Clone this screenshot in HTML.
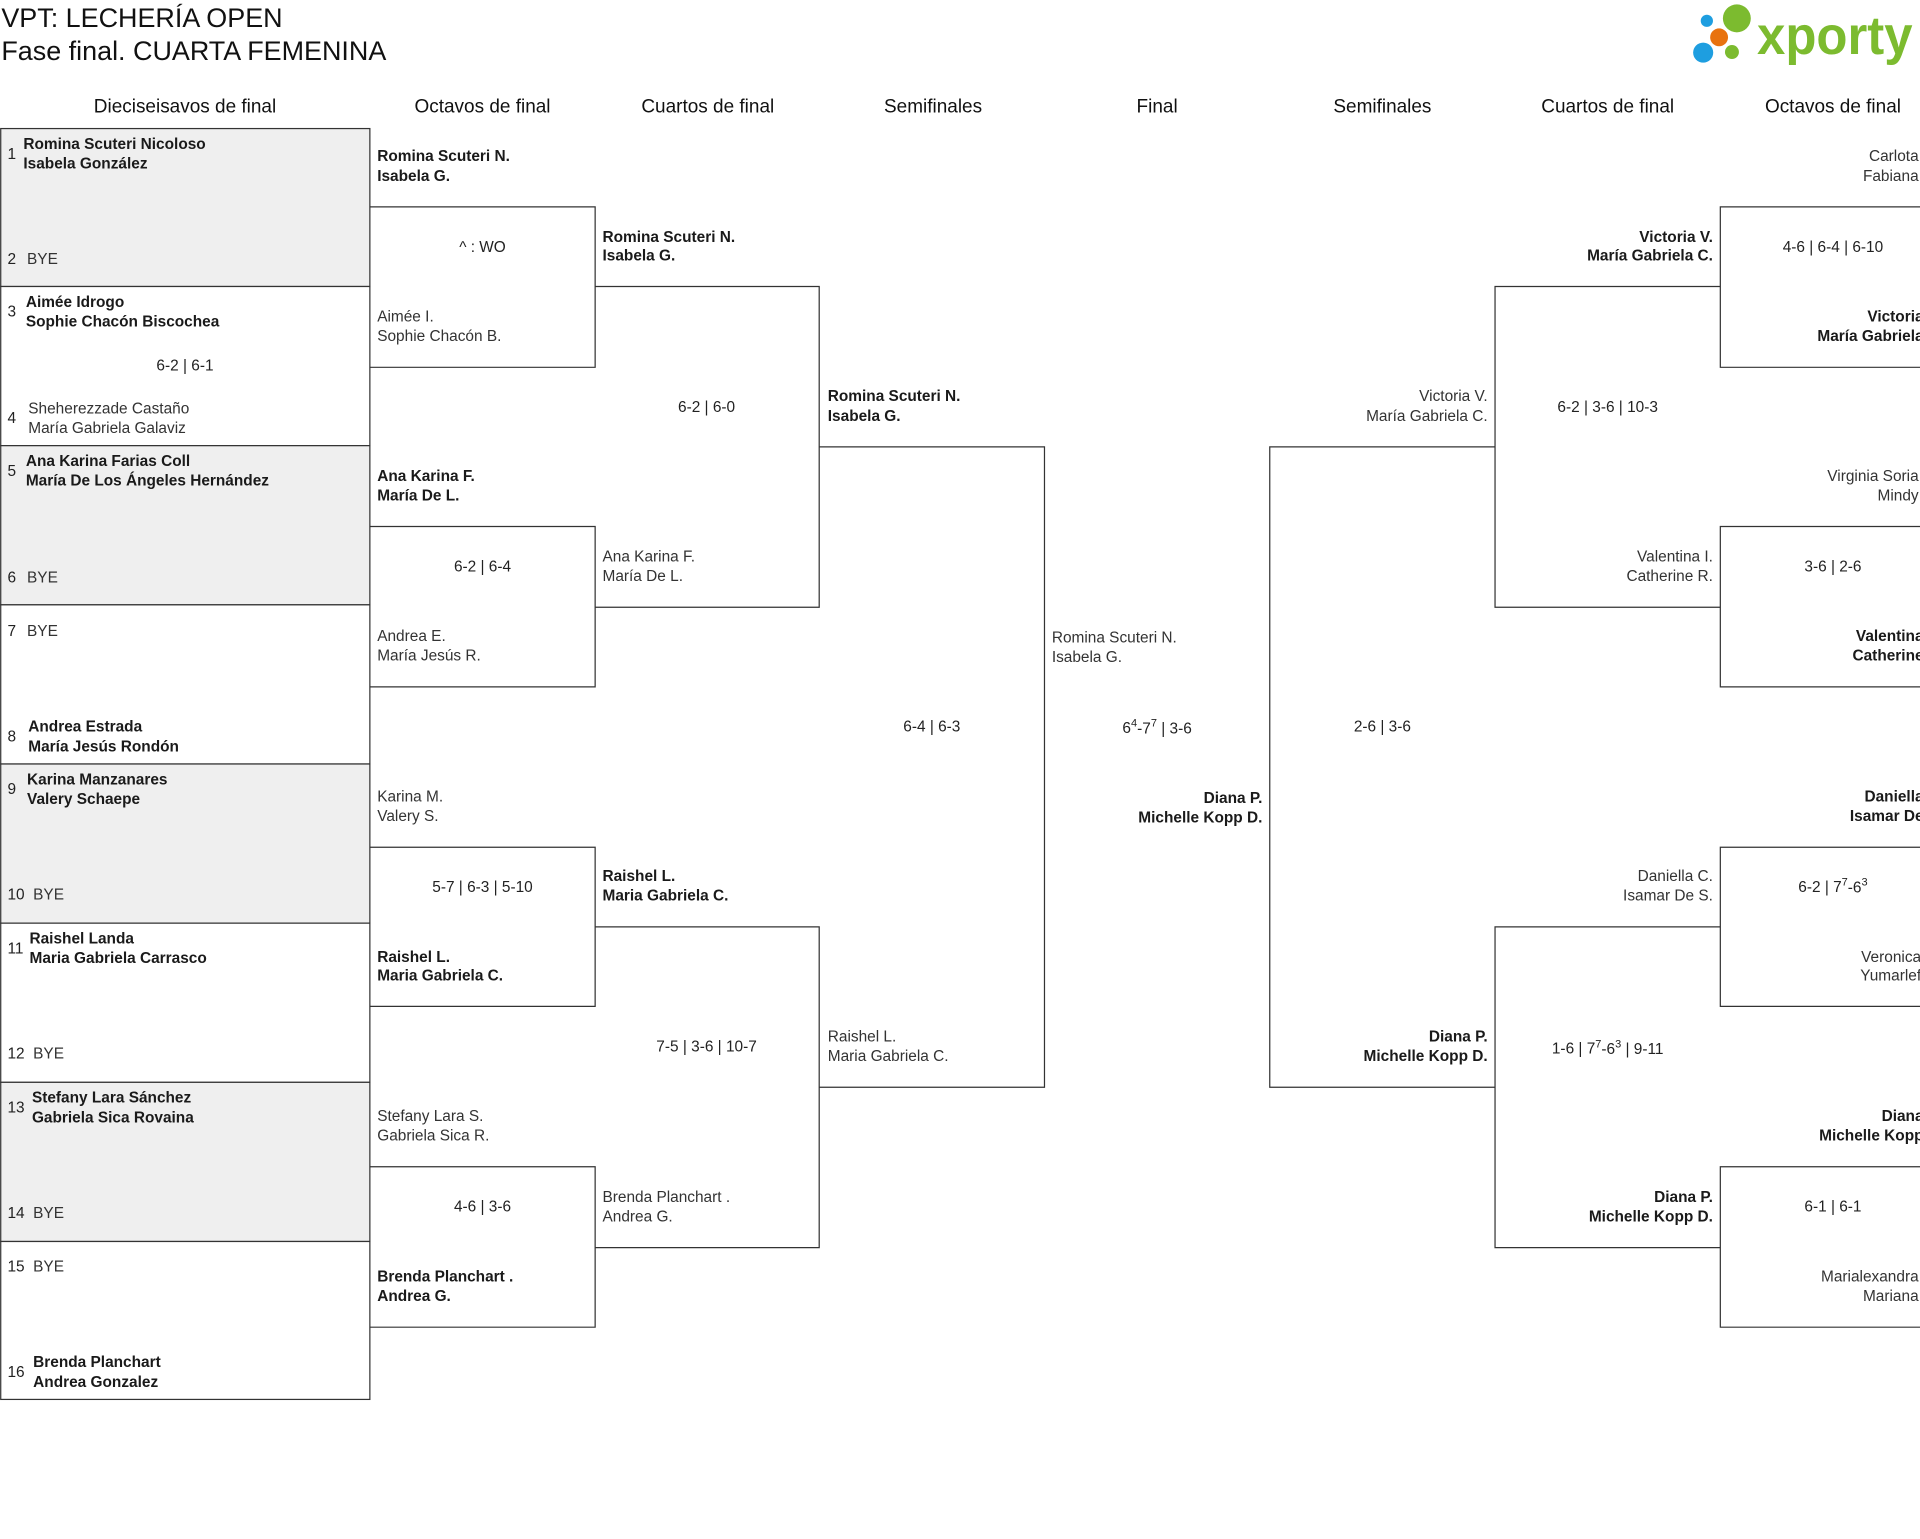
<!DOCTYPE html>
<html><head><meta charset="utf-8"><style>
html,body{margin:0;padding:0;background:#fff;}
svg{display:block;}
text{font-family:"Liberation Sans",sans-serif;}
.h{font-size:15.5px;fill:#111;text-anchor:middle;}
.w{font-size:12.6px;font-weight:bold;fill:#1a1a1a;}
.l{font-size:12.6px;fill:#333;}
.s{font-size:12.6px;fill:#222;text-anchor:middle;}
.n{font-size:12.6px;fill:#222;}
.r{text-anchor:end;}
rect,line,path{stroke:#333;stroke-width:1;}
</style></head><body>
<svg width="1920" height="1539" viewBox="0 0 1568 1257" xmlns="http://www.w3.org/2000/svg">
<text x="1" y="22" style="font-size:22px;fill:#111">VPT: LECHERÍA OPEN</text>
<text x="1" y="49" style="font-size:22px;fill:#111">Fase final. CUARTA FEMENINA</text>
<!-- logo -->
<circle cx="1394" cy="17" r="5" fill="#1e9ee0" stroke="none"/>
<circle cx="1418.5" cy="15" r="11.4" fill="#7cbb2f" stroke="none"/>
<circle cx="1404" cy="30.5" r="7.3" fill="#e8720f" stroke="none"/>
<circle cx="1391" cy="43" r="8.2" fill="#1e9ee0" stroke="none"/>
<circle cx="1414.5" cy="42.5" r="5.7" fill="#7cbb2f" stroke="none"/>
<text x="1435" y="44" textLength="127" lengthAdjust="spacingAndGlyphs" style="font-size:44px;font-weight:bold;fill:#7cbb2f">xporty</text>
<!-- headers -->
<g class="h">
<text x="151" y="92">Dieciseisavos de final</text>
<text x="394" y="92">Octavos de final</text>
<text x="578" y="92">Cuartos de final</text>
<text x="762" y="92">Semifinales</text>
<text x="945" y="92">Final</text>
<text x="1129" y="92">Semifinales</text>
<text x="1313" y="92">Cuartos de final</text>
<text x="1497" y="92">Octavos de final</text>
</g>
<!-- round 1 boxes -->
<g fill="none">
<rect x="0.5" y="105" width="301.5" height="129" fill="#efefef"/>
<rect x="0.5" y="234" width="301.5" height="130" fill="#fff"/>
<rect x="0.5" y="364" width="301.5" height="130" fill="#efefef"/>
<rect x="0.5" y="494" width="301.5" height="130" fill="#fff"/>
<rect x="0.5" y="624" width="301.5" height="130" fill="#efefef"/>
<rect x="0.5" y="754" width="301.5" height="130" fill="#fff"/>
<rect x="0.5" y="884" width="301.5" height="130" fill="#efefef"/>
<rect x="0.5" y="1014" width="301.5" height="129" fill="#fff"/>
<!-- left brackets: top, right, bottom -->
<path d="M302 169 H486 V300 H302 M302 430 H486 V561 H302 M302 692 H486 V822 H302 M302 953 H486 V1084 H302"/>
<path d="M486 234 H669 V496 H486 M486 757 H669 V1019 H486"/>
<path d="M669 365 H853 V888 H669"/>
<!-- right brackets: top, left, bottom -->
<path d="M1221 365 H1037 V888 H1221"/>
<path d="M1405 234 H1221 V496 H1405 M1405 757 H1221 V1019 H1405"/>
<path d="M1580 169 H1405 V300 H1580 M1580 430 H1405 V561 H1580 M1580 692 H1405 V822 H1580 M1580 953 H1405 V1084 H1580"/>
</g>
<g dominant-baseline="central">
<text class="n" x="6" y="126">1</text><text class="w" x="19" y="118">Romina Scuteri Nicoloso</text><text class="w" x="19" y="134">Isabela González</text>
<text class="n" x="6" y="212">2</text><text class="l" x="22" y="212">BYE</text>
<text class="n" x="6" y="255">3</text><text class="w" x="21" y="247">Aimée Idrogo</text><text class="w" x="21" y="263">Sophie Chacón Biscochea</text>
<text class="s" x="151" y="299">6-2 | 6-1</text>
<text class="n" x="6" y="342">4</text><text class="l" x="23" y="334">Sheherezzade Castaño</text><text class="l" x="23" y="350">María Gabriela Galaviz</text>
<text class="n" x="6" y="385">5</text><text class="w" x="21" y="377">Ana Karina Farias Coll</text><text class="w" x="21" y="393">María De Los Ángeles Hernández</text>
<text class="n" x="6" y="472">6</text><text class="l" x="22" y="472">BYE</text>
<text class="n" x="6" y="516">7</text><text class="l" x="22" y="516">BYE</text>
<text class="n" x="6" y="602">8</text><text class="w" x="23" y="594">Andrea Estrada</text><text class="w" x="23" y="610">María Jesús Rondón</text>
<text class="n" x="6" y="645">9</text><text class="w" x="22" y="637">Karina Manzanares</text><text class="w" x="22" y="653">Valery Schaepe</text>
<text class="n" x="6" y="731">10</text><text class="l" x="27" y="731">BYE</text>
<text class="n" x="6" y="775">11</text><text class="w" x="24" y="767">Raishel Landa</text><text class="w" x="24" y="783">Maria Gabriela Carrasco</text>
<text class="n" x="6" y="861">12</text><text class="l" x="27" y="861">BYE</text>
<text class="n" x="6" y="905">13</text><text class="w" x="26" y="897">Stefany Lara Sánchez</text><text class="w" x="26" y="913">Gabriela Sica Rovaina</text>
<text class="n" x="6" y="991">14</text><text class="l" x="27" y="991">BYE</text>
<text class="n" x="6" y="1035">15</text><text class="l" x="27" y="1035">BYE</text>
<text class="n" x="6" y="1121">16</text><text class="w" x="27" y="1113">Brenda Planchart</text><text class="w" x="27" y="1129">Andrea Gonzalez</text>

<text class="w" x="308" y="128">Romina Scuteri N.</text><text class="w" x="308" y="144">Isabela G.</text>
<text class="s" x="394" y="202">^ : WO</text>
<text class="l" x="308" y="259">Aimée I.</text><text class="l" x="308" y="275">Sophie Chacón B.</text>
<text class="w" x="308" y="389">Ana Karina F.</text><text class="w" x="308" y="405">María De L.</text>
<text class="s" x="394" y="463">6-2 | 6-4</text>
<text class="l" x="308" y="520">Andrea E.</text><text class="l" x="308" y="536">María Jesús R.</text>
<text class="l" x="308" y="651">Karina M.</text><text class="l" x="308" y="667">Valery S.</text>
<text class="s" x="394" y="725">5-7 | 6-3 | 5-10</text>
<text class="w" x="308" y="782">Raishel L.</text><text class="w" x="308" y="797">Maria Gabriela C.</text>
<text class="l" x="308" y="912">Stefany Lara S.</text><text class="l" x="308" y="928">Gabriela Sica R.</text>
<text class="s" x="394" y="986">4-6 | 3-6</text>
<text class="w" x="308" y="1043">Brenda Planchart .</text><text class="w" x="308" y="1059">Andrea G.</text>

<text class="w" x="492" y="194">Romina Scuteri N.</text><text class="w" x="492" y="209">Isabela G.</text>
<text class="s" x="577" y="333">6-2 | 6-0</text>
<text class="l" x="492" y="455">Ana Karina F.</text><text class="l" x="492" y="471">María De L.</text>
<text class="w" x="492" y="716">Raishel L.</text><text class="w" x="492" y="732">Maria Gabriela C.</text>
<text class="s" x="577" y="855">7-5 | 3-6 | 10-7</text>
<text class="l" x="492" y="978">Brenda Planchart .</text><text class="l" x="492" y="994">Andrea G.</text>

<text class="w" x="676" y="324">Romina Scuteri N.</text><text class="w" x="676" y="340">Isabela G.</text>
<text class="s" x="761" y="594">6-4 | 6-3</text>
<text class="l" x="676" y="847">Raishel L.</text><text class="l" x="676" y="863">Maria Gabriela C.</text>

<text class="l" x="859" y="521">Romina Scuteri N.</text><text class="l" x="859" y="537">Isabela G.</text>
<text class="s" x="945" y="595">6<tspan dy="-4" style="font-size:9px">4</tspan><tspan dy="4">-7</tspan><tspan dy="-4" style="font-size:9px">7</tspan><tspan dy="4"> | 3-6</tspan></text>
<text class="w r" x="1031" y="652">Diana P.</text><text class="w r" x="1031" y="668">Michelle Kopp D.</text>

<text class="l r" x="1215" y="324">Victoria V.</text><text class="l r" x="1215" y="340">María Gabriela C.</text>
<text class="s" x="1129" y="594">2-6 | 3-6</text>
<text class="w r" x="1215" y="847">Diana P.</text><text class="w r" x="1215" y="863">Michelle Kopp D.</text>

<text class="w r" x="1399" y="194">Victoria V.</text><text class="w r" x="1399" y="209">María Gabriela C.</text>
<text class="s" x="1313" y="333">6-2 | 3-6 | 10-3</text>
<text class="l r" x="1399" y="455">Valentina I.</text><text class="l r" x="1399" y="471">Catherine R.</text>
<text class="l r" x="1399" y="716">Daniella C.</text><text class="l r" x="1399" y="732">Isamar De S.</text>
<text class="s" x="1313" y="857">1-6 | 7<tspan dy="-4" style="font-size:9px">7</tspan><tspan dy="4">-6</tspan><tspan dy="-4" style="font-size:9px">3</tspan><tspan dy="4"> | 9-11</tspan></text>
<text class="w r" x="1399" y="978">Diana P.</text><text class="w r" x="1399" y="994">Michelle Kopp D.</text>

<text class="l r" x="1567" y="128">Carlota</text><text class="l r" x="1567" y="144">Fabiana</text>
<text class="s" x="1497" y="202">4-6 | 6-4 | 6-10</text>
<text class="w r" x="1571" y="259">Victoria</text><text class="w r" x="1571" y="275">María Gabriela</text>
<text class="l r" x="1567" y="389">Virginia Soria</text><text class="l r" x="1567" y="405">Mindy</text>
<text class="s" x="1497" y="463">3-6 | 2-6</text>
<text class="w r" x="1571" y="520">Valentina</text><text class="w r" x="1571" y="536">Catherine</text>
<text class="w r" x="1571" y="651">Daniella</text><text class="w r" x="1571" y="667">Isamar De</text>
<text class="s" x="1497" y="725">6-2 | 7<tspan dy="-4" style="font-size:9px">7</tspan><tspan dy="4">-6</tspan><tspan dy="-4" style="font-size:9px">3</tspan></text>
<text class="l r" x="1569" y="782">Veronica</text><text class="l r" x="1569" y="797">Yumarlef</text>
<text class="w r" x="1571" y="912">Diana</text><text class="w r" x="1571" y="928">Michelle Kopp</text>
<text class="s" x="1497" y="986">6-1 | 6-1</text>
<text class="l r" x="1567" y="1043">Marialexandra</text><text class="l r" x="1567" y="1059">Mariana</text>
</g>
</svg>
</body></html>
